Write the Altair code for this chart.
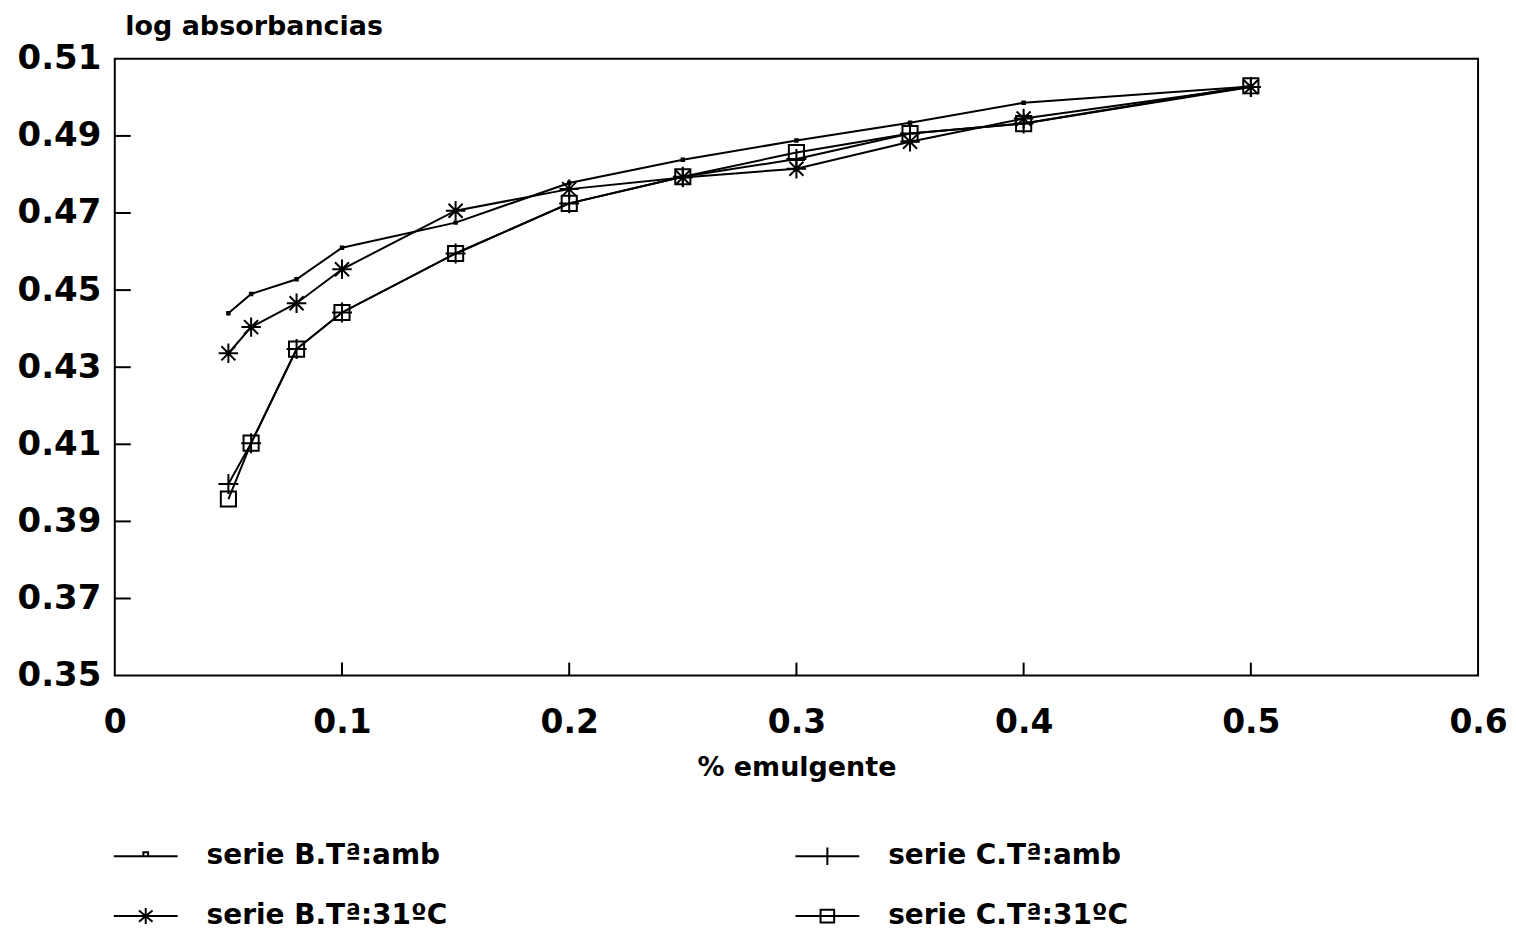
import altair as alt
import pandas as pd

# ---- data ----
x_vals = [0.05, 0.06, 0.08, 0.1, 0.15, 0.2, 0.25, 0.3, 0.35, 0.4, 0.5]
serie_b_amb = [0.4440, 0.4490, 0.4528, 0.4610, 0.4675, 0.4778, 0.4838, 0.4888, 0.4934, 0.4986, 0.5028]
serie_b_31 = [0.4336, 0.4404, 0.4466, 0.4554, 0.4706, 0.4762, 0.4792, 0.4815, 0.4885, 0.4945, 0.5027]
serie_c_amb = [0.3997, 0.4103, 0.4347, 0.4442, 0.4595, 0.4725, 0.4794, 0.4840, 0.4906, 0.4932, 0.5027]
serie_c_31 = [0.3958, 0.4103, 0.4347, 0.4442, 0.4595, 0.4725, 0.4794, 0.4857, 0.4906, 0.4932, 0.5030]

series_names = ["serie B.Tª:amb", "serie C.Tª:amb", "serie B.Tª:31ºC", "serie C.Tª:31ºC"]
series_values = [serie_b_amb, serie_c_amb, serie_b_31, serie_c_31]

y_tick_values = [0.35, 0.37, 0.39, 0.41, 0.43, 0.45, 0.47, 0.49, 0.51]
x_tick_values = [0, 0.1, 0.2, 0.3, 0.4, 0.5, 0.6]
y_inner_ticks = [0.37, 0.39, 0.41, 0.43, 0.45, 0.47, 0.49]
x_inner_ticks = [0.1, 0.2, 0.3, 0.4, 0.5]

rows = []
for name, vals in zip(series_names, series_values):
    for xv, yv in zip(x_vals, vals):
        rows.append({"serie": name, "x": xv, "y": yv})
df = pd.DataFrame(rows)

FONT = "DejaVu Sans"
W, H = 1366, 618

x_enc = alt.X(
    "x:Q",
    scale=alt.Scale(domain=[0, 0.6], nice=False, zero=False),
    axis=alt.Axis(
        values=x_tick_values, format="~g", title="% emulgente",
        ticks=False, domain=False, grid=False,
        labelFont=FONT, labelFontSize=33, labelFontWeight="bold", labelColor="black",
        labelPadding=31, labelFlush=False,
        titleFont=FONT, titleFontSize=27, titleFontWeight="bold", titleColor="black",
        titleBaseline="alphabetic", titleY=100,
    ),
)
y_enc = alt.Y(
    "y:Q",
    scale=alt.Scale(domain=[0.35, 0.51], nice=False, zero=False),
    axis=alt.Axis(
        values=y_tick_values, format=".2f", title="log absorbancias",
        ticks=False, domain=False, grid=False,
        labelFont=FONT, labelFontSize=34, labelFontWeight="bold", labelColor="black",
        labelPadding=14, labelFlush=False,
        titleFont=FONT, titleFontSize=27, titleFontWeight="bold", titleColor="black",
        titleAngle=0, titleAlign="left", titleBaseline="alphabetic",
        titleX=10, titleY=-24,
    ),
)

base = alt.Chart(df)

lines = base.mark_line(color="black", strokeWidth=2).encode(
    x=x_enc, y=y_enc, detail="serie:N"
)

point_paths = {
    "serie B.Tª:amb": "M-1,-1h2v2h-2z",
    "serie B.Tª:31ºC": "M-1,0L1,0M0,-1L0,1M-0.72,-0.72L0.72,0.72M-0.72,0.72L0.72,-0.72",
    "serie C.Tª:amb": "M-1,0L1,0M0,-1L0,1",
    "serie C.Tª:31ºC": "square",
}
point_sizes = {
    "serie B.Tª:amb": 6,
    "serie B.Tª:31ºC": 380,
    "serie C.Tª:amb": 400,
    "serie C.Tª:31ºC": 230,
}

point_layers = []
for name in series_names:
    point_layers.append(
        base.transform_filter(alt.datum.serie == name)
        .mark_point(shape=point_paths[name], size=point_sizes[name], filled=False,
                    stroke="black", strokeWidth=2, opacity=1)
        .encode(x=x_enc, y=y_enc)
    )

legend_paths = [
    "M-4,0L4,0M-0.3,-0.5h0.6v0.5h-0.6z",
    "M-4,0L4,0M0,-1.1L0,1.1",
    "M-4,0L4,0M0,-1L0,1M-0.85,-0.7L0.85,0.7M-0.85,0.7L0.85,-0.7",
    "M-4,0L4,0M-0.85,-0.8h1.7v1.6h-1.7z",
]

legend_layer = base.mark_point(opacity=0, filled=False, stroke="black").encode(
    x=x_enc, y=y_enc,
    shape=alt.Shape(
        "serie:N",
        sort=series_names,
        scale=alt.Scale(domain=series_names, range=legend_paths),
        legend=alt.Legend(
            title=None, orient="none", legendX=17, legendY=785,
            direction="horizontal", columns=2, columnPadding=344, rowPadding=32,
            symbolSize=256, symbolStrokeWidth=2, symbolStrokeColor="black",
            symbolFillColor="transparent", symbolOpacity=1,
            labelFont=FONT, labelFontSize=28, labelFontWeight="bold", labelColor="black",
            labelOffset=47, labelLimit=0, padding=0,
        ),
    ),
)

ytick_df = pd.DataFrame({"y": y_inner_ticks})
xtick_df = pd.DataFrame({"x": x_inner_ticks})
y_ticks_layer = alt.Chart(ytick_df).mark_rule(color="black", strokeWidth=2).encode(
    y=y_enc, x=alt.value(0), x2=alt.value(16)
)
x_ticks_layer = alt.Chart(xtick_df).mark_rule(color="black", strokeWidth=2).encode(
    x=x_enc, y=alt.value(H), y2=alt.value(H - 13)
)

chart = alt.layer(
    lines, *point_layers, legend_layer, y_ticks_layer, x_ticks_layer
).properties(
    width=W, height=H,
    autosize=alt.AutoSizeParams(type="none"),
    padding={"left": 107, "top": 50, "right": 30, "bottom": 256},
    background="white",
).configure_view(
    stroke="black", strokeWidth=2
)

chart.save("out.html", embed_options={"renderer": "svg", "actions": False})
